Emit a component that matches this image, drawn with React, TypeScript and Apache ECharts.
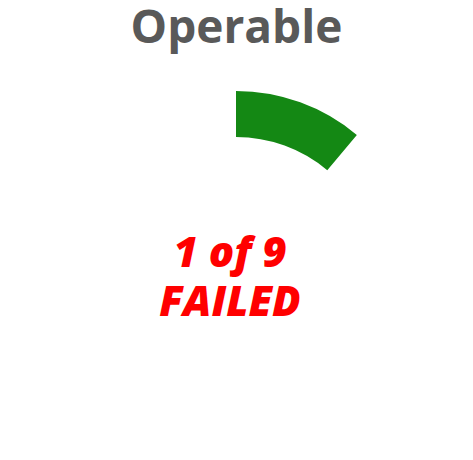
import React, { useEffect, useRef } from 'react';
import * as echarts from 'echarts';

const categories = ['Failed', 'Other'];
const values = [1, 8];
const colors = ['#148814', 'transparent'];
const titleText = 'Operable';
const centerLines = ['1 of 9', 'FAILED'];

export default function App() {
  const chartRef = useRef<HTMLDivElement>(null);

  useEffect(() => {
    if (!chartRef.current) return;
    const myChart = echarts.init(chartRef.current, null, { renderer: 'svg' });

    const option = {
      animation: false,
      title: {
        text: titleText,
        left: 'center',
        top: 0,
        padding: 0,
        textStyle: {
          fontFamily: 'Open Sans',
          fontWeight: 'bold',
          fontSize: 46,
          lineHeight: 34,
          color: '#595959',
        },
      },
      // two centre lines, stacked 49px apart
      graphic: centerLines.map((line, i) => ({
        type: 'text',
        x: 222,
        y: 242 + i * 49,
        style: {
          text: line,
          fontFamily: 'Open Sans',
          fontStyle: 'italic',
          fontWeight: 800,
          fontSize: 42,
          lineHeight: 42,
          fill: '#ff0000',
          textAlign: 'center',
          textVerticalAlign: 'middle',
        },
      })),
      series: [
        {
          type: 'pie',
          center: [228, 271],
          radius: [142, 188],
          startAngle: 90,
          clockwise: true,
          silent: true,
          label: { show: false },
          labelLine: { show: false },
          data: categories.map((name, i) => ({
            name,
            value: values[i],
            itemStyle: { color: colors[i] },
          })),
        },
      ],
    };

    myChart.setOption(option);
    return () => myChart.dispose();
  }, []);

  return <div ref={chartRef} style={{ width: '100%', height: '444px' }} />;
}
